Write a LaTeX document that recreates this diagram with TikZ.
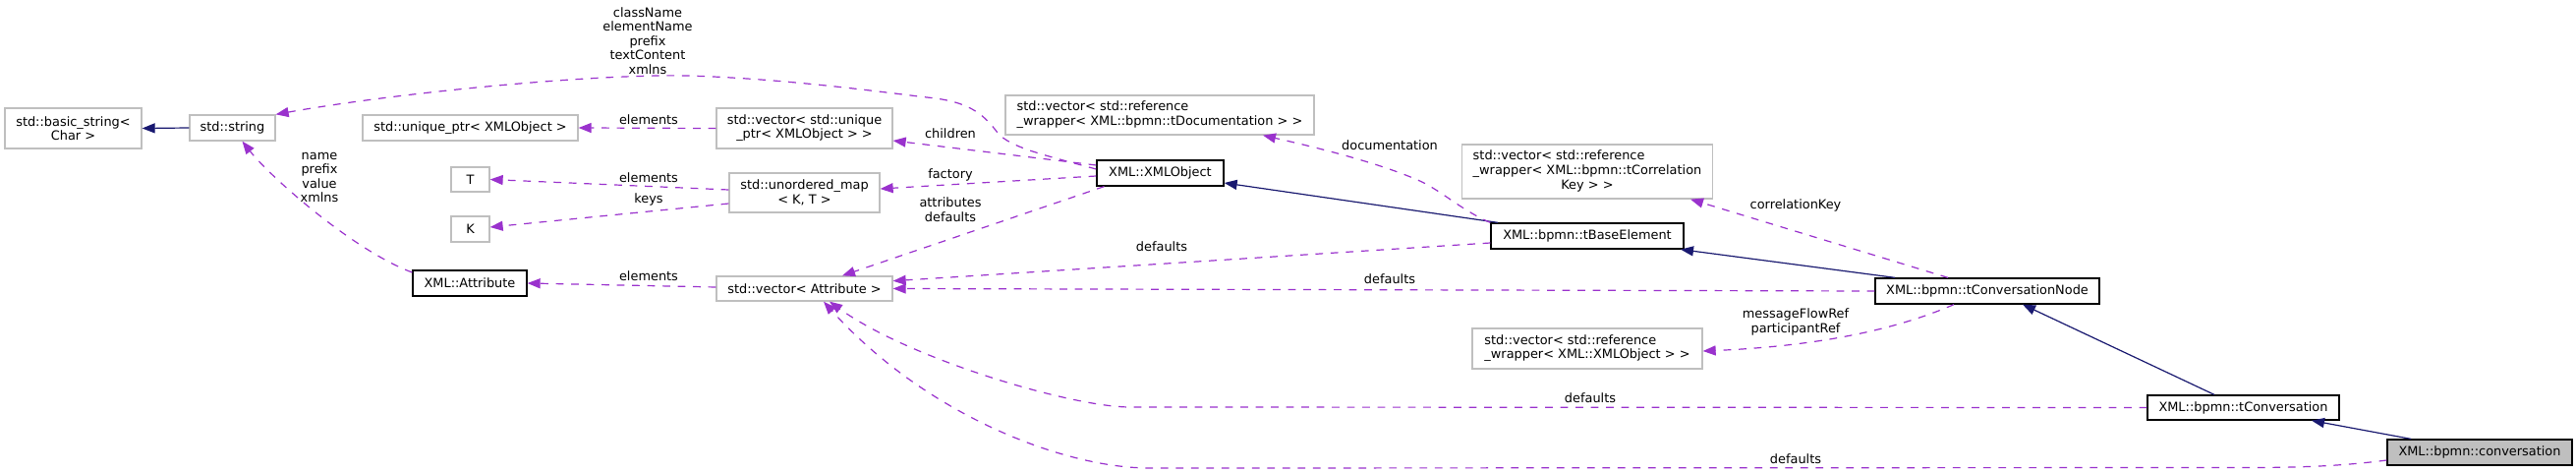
\documentclass[tikz,border=0pt]{standalone}
\usepackage{fontspec}
\setmainfont{DejaVu Sans}
\usetikzlibrary{arrows.meta}
\definecolor{edgep}{HTML}{9A32CD}
\definecolor{edgen}{HTML}{191970}
\definecolor{gborder}{HTML}{BFBFBF}
\newcommand\dxltwo[2]{\begin{tabular}{@{}l@{}}#1\\\multicolumn{1}{@{}c@{}}{#2}\end{tabular}}
\newcommand\dxlthree[3]{\begin{tabular}{@{}l@{}}#1\\#2\\\multicolumn{1}{@{}c@{}}{#3}\end{tabular}}
\begin{document}
\begin{tikzpicture}[x=1pt,y=-1pt,
  fnt/.style={font=\fontsize{12.9}{14.6}\selectfont},
  gbox/.style={fnt, draw=gborder, line width=1.3pt, fill=white, inner sep=0pt, align=center},
  bbox/.style={gbox, draw=black},
  dep/.style={draw=edgep, line width=1.2pt, dash pattern=on 7.75pt off 7.75pt, -{Triangle[length=13pt,width=10pt,fill=edgep]}},
  inh/.style={draw=edgen, line width=1.2pt, -{Triangle[length=13pt,width=10pt,fill=edgen]}},
  lbl/.style={fnt, inner sep=0pt, align=center}]
\fill[white] (0,0) rectangle (2621,481);
\useasboundingbox (0,0) rectangle (2621,481);

% nodes
\node[gbox, minimum width=139pt, minimum height=41pt] (basic) at (74.5,130.5) {std::basic\_string<\\Char >};
\node[gbox, minimum width=87pt, minimum height=26pt] (string) at (236.5,130) {std::string};
\node[gbox, minimum width=219pt, minimum height=26pt] (uptr) at (478.5,130) {std::unique\_ptr< XMLObject >};
\node[gbox, minimum width=39pt, minimum height=25pt] (T) at (478.5,182.5) {T};
\node[gbox, minimum width=39pt, minimum height=26pt] (K) at (478.5,233) {K};
\node[bbox, minimum width=116pt, minimum height=26pt] (attr) at (478,288) {XML::Attribute};
\node[gbox, minimum width=179pt, minimum height=41pt] (vuptr) at (818.5,130.5) {\dxltwo{std::vector< std::unique}{\_ptr< XMLObject > >}};
\node[gbox, minimum width=153pt, minimum height=40pt] (umap) at (818.5,196) {std::unordered\_map\\< K, T >};
\node[gbox, minimum width=179pt, minimum height=25pt] (vattr) at (818.5,293.5) {std::vector< Attribute >};
\node[bbox, minimum width=129pt, minimum height=26pt] (xmlobj) at (1180.5,176) {XML::XMLObject};
\node[gbox, minimum width=314pt, minimum height=40pt] (vdoc) at (1180,117) {\dxltwo{std::vector< std::reference}{\_wrapper< XML::bpmn::tDocumentation > >}};
\node[bbox, minimum width=196pt, minimum height=26pt] (base) at (1615,240) {XML::bpmn::tBaseElement};
\node[gbox, minimum width=255pt, minimum height=55pt] (vcorr) at (1615,174.5) {\dxlthree{std::vector< std::reference}{\_wrapper< XML::bpmn::tCorrelation}{Key > >}};
\node[gbox, minimum width=234pt, minimum height=41pt] (vxml) at (1615,354.5) {\dxltwo{std::vector< std::reference}{\_wrapper< XML::XMLObject > >}};
\node[bbox, minimum width=228pt, minimum height=26pt] (convnode) at (2022,296) {XML::bpmn::tConversationNode};
\node[bbox, minimum width=195pt, minimum height=25pt] (tconv) at (2282.5,414.5) {XML::bpmn::tConversation};
\node[bbox, fill=gborder, minimum width=188pt, minimum height=26pt] (conv) at (2523,460) {XML::bpmn::conversation};

% inheritance edges
\draw[inh] (string.west) -- (basic.east);
\draw[inh] ([xshift=-91pt]base.north) -- ([yshift=-10pt]xmlobj.east);
\draw[inh] ([xshift=-94pt]convnode.north) -- ([xshift=95pt]base.south);
\draw[inh] ([xshift=-29.5pt]tconv.north) -- ([xshift=36pt]convnode.south);
\draw[inh] ([xshift=-70pt]conv.north) -- ([xshift=69.5pt]tconv.south);

% usage edges
\draw[dep] ([yshift=4pt]xmlobj.west) .. controls (1060,157) and (1028,150) .. (1015,135)
  .. controls (1000,115) and (985,103) .. (943,99)
  .. controls (900,94) and (800,80) .. (700,77)
  .. controls (600,75) and (400,95) .. (string.north east);
\draw[dep] (vuptr.west) -- (uptr.east);
\draw[dep] ([yshift=8pt]xmlobj.west) -- ([yshift=-12.5pt]vuptr.east);
\draw[dep] ([yshift=3pt]umap.west) -- (T.east);
\draw[dep] ([yshift=-11pt]umap.west) -- ([yshift=2pt]K.east);
\draw[dep] ([yshift=-3pt]xmlobj.west) -- ([yshift=4pt]umap.east);
\draw[dep] ([xshift=-57pt]xmlobj.south) -- ([xshift=38.5pt]vattr.north);
\draw[dep] ([yshift=1.5pt]vattr.west) -- (attr.east);
\draw[dep] ([yshift=11pt]attr.west) .. controls (360,255) and (275,180) .. ([xshift=10pt]string.south);
\draw[dep] (base.north west) .. controls (1485,213) and (1465,192) .. (1440,182)
  .. controls (1400,165) and (1340,150) .. ([xshift=105pt]vdoc.south);
\draw[dep] ([yshift=-7pt]base.west) -- ([yshift=7.8pt]vattr.east);
\draw[dep] (convnode.west) -- (vattr.east);
\draw[dep] ([xshift=-40pt]convnode.north) -- ([xshift=105pt]vcorr.south);
\draw[dep] ([xshift=-34pt]convnode.south) .. controls (1930,335) and (1850,352) .. ([yshift=-2.5pt]vxml.east);
\draw[dep] (tconv.west) -- (1150,414) .. controls (1090,414) and (925,365) .. ([xshift=25.5pt]vattr.south);
\draw[dep] ([yshift=-8pt]conv.west) .. controls (2390,473) and (2350,475.5) .. (2290,475.5) -- (1170,476)
  .. controls (1080,476) and (940,420) .. ([xshift=19.5pt]vattr.south);

% labels
\node[lbl] (l1) at (659,41.5) {className\\elementName\\prefix\\textContent\\xmlns};
\node[lbl] (l2) at (660,122) {elements};
\node[lbl] (l3) at (660,181) {elements};
\node[lbl] (l4) at (660,203) {keys};
\node[lbl] (l5) at (660,281) {elements};
\node[lbl] (l6) at (325,180.5) {name\\prefix\\value\\xmlns};
\node[lbl] (l7) at (967,136) {children};
\node[lbl] (l8) at (967,178) {factory};
\node[lbl] (l9) at (967,213) {attributes\\defaults};
\node[lbl] (l10) at (1414,148) {documentation};
\node[lbl] (l11) at (1182,251) {defaults};
\node[lbl] (l12) at (1414,284) {defaults};
\node[lbl] (l13) at (1827,209) {correlationKey};
\node[lbl] (l14) at (1827,327.5) {messageFlowRef\\participantRef};
\node[lbl] (l15) at (1618,405) {defaults};
\node[lbl] (l16) at (1827,467) {defaults};
\end{tikzpicture}
\end{document}
